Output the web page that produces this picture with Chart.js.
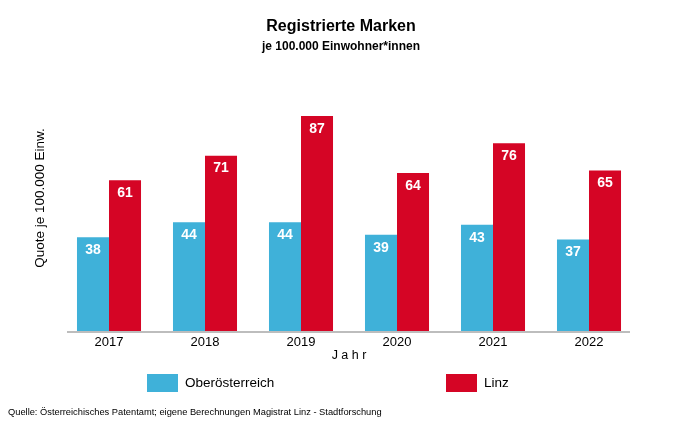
<!DOCTYPE html>
<html lang="de">
<head>
  <meta charset="UTF-8">
  <title>Registrierte Marken</title>
  <script src="https://cdn.jsdelivr.net/npm/chart.js"></script>
  <style>
    body { margin: 0; background: #fff; }
    #wrap { width: 680px; height: 425px; position: relative; }
  </style>
</head>
<body>
<div id="wrap"><canvas id="chart"></canvas></div>
<script>
const years = ["2017", "2018", "2019", "2020", "2021", "2022"];
const ooeValues = [38, 44, 44, 39, 43, 37];
const linzValues = [61, 71, 87, 64, 76, 65];
const seriesNames = ["Oberösterreich", "Linz"];
const FONT = "'Liberation Sans', Arial, sans-serif";
const BLUE = '#3FB1D9';
const RED = '#D50525';

// text, axis line, value labels and legend drawn by hand
const decor = {
  id: 'decor',
  afterDraw(chart) {
    const ctx = chart.ctx;
    const area = chart.chartArea;
    ctx.save();

    ctx.fillStyle = '#000';
    ctx.textAlign = 'center';
    ctx.textBaseline = 'middle';
    ctx.font = 'bold 16px ' + FONT;
    ctx.fillText('Registrierte Marken', 341, 27);
    ctx.font = 'bold 12px ' + FONT;
    ctx.fillText('je 100.000 Einwohner*innen', 341, 47);

    // x axis line
    ctx.strokeStyle = '#BDBDBD';
    ctx.lineWidth = 2;
    ctx.beginPath();
    ctx.moveTo(67, area.bottom + 1);
    ctx.lineTo(630, area.bottom + 1);
    ctx.stroke();

    // axis titles
    ctx.font = '12.5px ' + FONT;
    ctx.fillText('J a h r', 349, 356);
    ctx.save();
    ctx.translate(40, 198);
    ctx.rotate(-Math.PI / 2);
    ctx.font = '13.5px ' + FONT;
    ctx.fillText('Quote je 100.000 Einw.', 0, 0);
    ctx.restore();

    // values inside bars
    ctx.fillStyle = '#fff';
    ctx.font = 'bold 14px ' + FONT;
    chart.data.datasets.forEach((ds, i) => {
      chart.getDatasetMeta(i).data.forEach((bar, j) => {
        ctx.fillText(ds.data[j], bar.x, bar.y + 13);
      });
    });

    // legend
    const legendX = [147, 446];
    ctx.textAlign = 'left';
    ctx.font = '13.5px ' + FONT;
    chart.data.datasets.forEach((ds, i) => {
      ctx.fillStyle = ds.backgroundColor;
      ctx.fillRect(legendX[i], 374, 31, 18);
      ctx.fillStyle = '#000';
      ctx.fillText(ds.label, legendX[i] + 38, 383);
    });

    ctx.font = '9.3px ' + FONT;
    ctx.fillText('Quelle: Österreichisches Patentamt; eigene Berechnungen Magistrat Linz - Stadtforschung', 8, 412);
    ctx.restore();
  }
};

new Chart(document.getElementById('chart'), {
  type: 'bar',
  data: {
    labels: years,
    datasets: [
      { label: seriesNames[0], data: ooeValues, backgroundColor: BLUE },
      { label: seriesNames[1], data: linzValues, backgroundColor: RED }
    ]
  },
  options: {
    responsive: true,
    maintainAspectRatio: false,
    animation: false,
    layout: { padding: { left: 61, right: 43, top: 84, bottom: 0 } },
    datasets: { bar: { categoryPercentage: 0.667, barPercentage: 1 } },
    plugins: { legend: { display: false }, tooltip: { enabled: false } },
    scales: {
      x: {
        grid: { display: false, drawTicks: false },
        border: { display: false },
        ticks: { color: '#000', font: { family: FONT, size: 13 }, padding: 4 },
        afterFit(scale) { scale.height = 94; }
      },
      y: {
        display: false,
        min: 0,
        max: 100
      }
    }
  },
  plugins: [decor]
});
</script>
</body>
</html>
